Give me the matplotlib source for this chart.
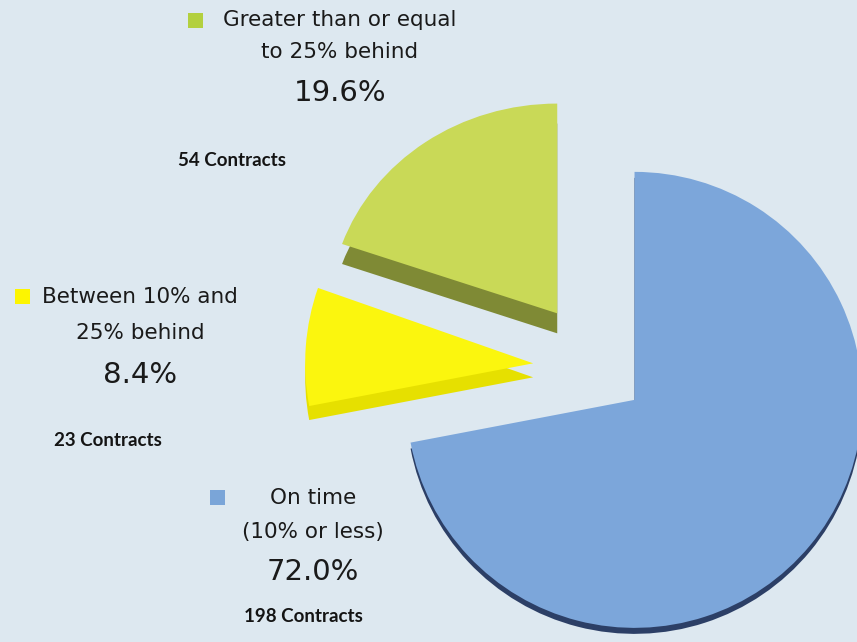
import matplotlib
matplotlib.use("Agg")
import matplotlib.pyplot as plt
from matplotlib.patches import Rectangle
from matplotlib.transforms import Affine2D

# ---- data ----
categories = ["Greater than or equal\nto 25% behind", "Between 10% and\n25% behind", "On time\n(10% or less)"]
contracts = [54, 23, 198]
percent_labels = ["19.6%", "8.4%", "72.0%"]
count_labels = ["54 Contracts", "23 Contracts", "198 Contracts"]

top_colors = ["#c9d957", "#fbf60e", "#7ca6da"]
side_colors = ["#7f8a35", "#e6e000", "#2c3f66"]
legend_colors = ["#b3d03f", "#fdf500", "#7aa5d8"]

W, H = 857, 642
fig = plt.figure(figsize=(W / 100, H / 100), dpi=100)
fig.patch.set_facecolor("#dde8f0")
ax = fig.add_axes([0, 0, 1, 1])
ax.set_facecolor("#dde8f0")

center = (596, -368)
radius = 228
explode = [67, 63, 50]
thickness = [20, 14, 6]
yscale = [0.92, 1.0, 1.0]

def squash(w, s):
    cx, cy = w.center
    w.set_transform(Affine2D().translate(-cx, -cy).scale(1, s).translate(cx, cy) + ax.transData)

# side (3D depth) layer
side_wedges, _ = ax.pie(contracts, colors=side_colors, startangle=90, counterclock=True,
                        explode=explode, radius=radius, center=center,
                        wedgeprops=dict(linewidth=0))
for w, t, s in zip(side_wedges, thickness, yscale):
    cx, cy = w.center
    w.set_center((cx, cy - t))
    squash(w, s)

# top surface
top_wedges, _ = ax.pie(contracts, colors=top_colors, startangle=90, counterclock=True,
                       explode=explode, radius=radius, center=center,
                       wedgeprops=dict(linewidth=0))
for w, s in zip(top_wedges, yscale):
    squash(w, s)

ax.set_xlim(0, W)
ax.set_ylim(-H, 0)
ax.set_aspect("equal")
ax.axis("off")

label_font = "DejaVu Sans"
count_font = "Lato"

# label blocks: (square x, square y, text center x, line1 y, line2 y, pct y, count x, count y)
layout = [
    (188, 13, 340, 20, 52, 93, 232, 160),
    (15, 289, 140, 297, 333, 375, 108, 440),
    (210, 490, 313, 498, 532, 572, 303, 617),
]
for i, (sx, sy, tx, l1, l2, py, cx, cy) in enumerate(layout):
    ax.add_patch(Rectangle((sx, -sy - 15), 15, 15, color=legend_colors[i], lw=0))
    line1, line2 = categories[i].split("\n")
    ax.text(tx, -l1, line1, ha="center", va="center", fontsize=15.5,
            family=label_font, color="#1a1a1a")
    ax.text(tx, -l2, line2, ha="center", va="center", fontsize=15.5,
            family=label_font, color="#1a1a1a")
    ax.text(tx, -py, percent_labels[i], ha="center", va="center", fontsize=21,
            family=label_font, color="#1a1a1a")
    ax.text(cx, -cy, count_labels[i], ha="center", va="center", fontsize=13.5,
            family=count_font, fontweight="bold", color="#141414")

fig.savefig("out.png", dpi=100, facecolor=fig.get_facecolor())
